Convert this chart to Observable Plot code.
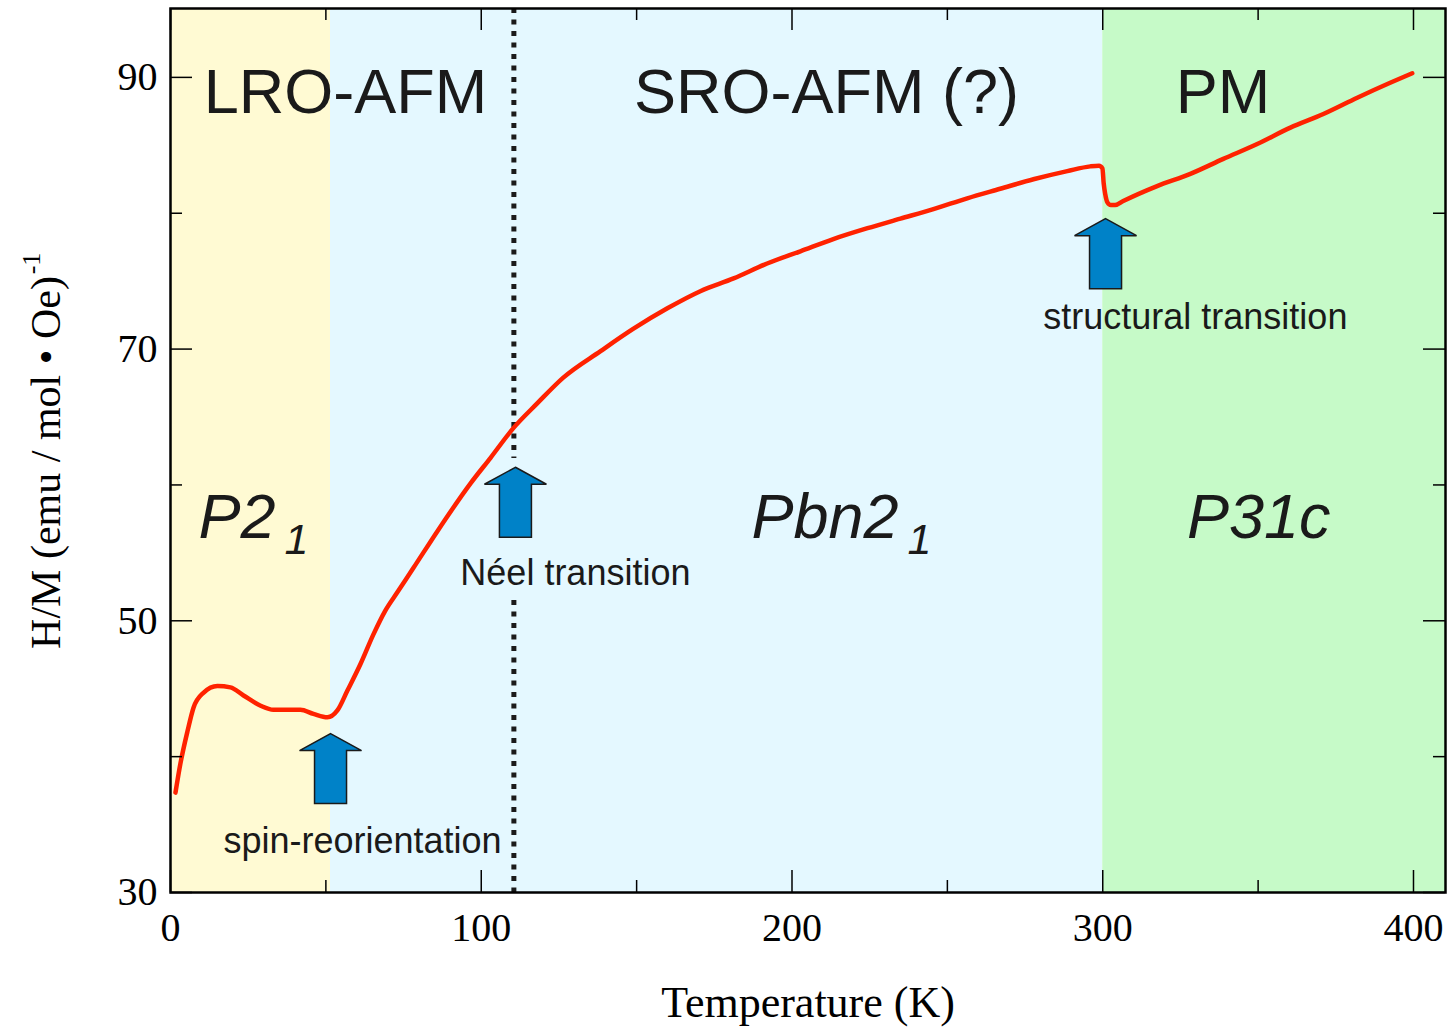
<!DOCTYPE html>
<html><head><meta charset="utf-8">
<script src="https://cdn.jsdelivr.net/npm/d3@7"></script>
<script src="https://cdn.jsdelivr.net/npm/@observablehq/plot@0.6"></script>
<style>body{margin:0;background:#fff}</style>
</head><body><div id="chart"></div>
<script>
// Measured curve: inverse susceptibility H/M vs temperature
const temperature = [1.6, 3.2, 5.5, 7.4, 10.6, 15.1, 19.3, 23.5, 29, 33.1, 41.8, 46, 50.5, 53.7, 56.9, 61.1, 65.3, 69.0, 73.0, 78.2, 85.9, 96.5, 103, 110.4, 118, 126.4, 138.4, 149, 159.9, 170.5, 181.2, 192, 202.7, 213.3, 224.3, 234.9, 245.5, 256.4, 267, 277.7, 288.6, 296, 298.8, 299.9, 300.3, 300.8, 301.5, 302.6, 304, 306.6, 317.5, 328.2, 338.8, 349.7, 360.4, 371, 381.9, 392.5, 399.6];
const hm = [37.35, 39.5, 41.9, 43.6, 44.7, 45.2, 45.1, 44.5, 43.75, 43.45, 43.45, 43.15, 42.9, 43.4, 44.85, 46.8, 49.0, 50.7, 52.1, 53.9, 56.6, 60.1, 62.0, 64.2, 66.0, 67.9, 69.85, 71.5, 73.0, 74.26, 75.2, 76.3, 77.2, 78.1, 78.9, 79.6, 80.3, 81.1, 81.8, 82.5, 83.1, 83.45, 83.5, 83.3, 82.2, 81.4, 80.8, 80.6, 80.6, 80.9, 82.0, 82.9, 84.0, 85.1, 86.3, 87.3, 88.5, 89.6, 90.3];

// Phase regions
const regionStart = [0, 51.5, 300];
const regionEnd = [51.5, 300, 410.3];
const regionColor = ["#fffad3", "#e4f8ff", "#c6fac8"];
const regionName = ["LRO-AFM", "SRO-AFM (?)", "PM"];
const regionNameT = [56.3, 211.1, 338.7];
const regionNameH = [87.4, 87.4, 87.4];

// Space groups
const phaseMain = ["P2", "Pbn2", "P31c"];
const phaseSub = ["1", "1", ""];
const phaseEndT = [33.8, 234.3, 373.3];
const phaseH = [56.06, 56.06, 56.06];
const phaseSubH = [54.95, 54.95, 54.95];

// Transitions (arrows + labels)
const arrowT = [51.5, 111.0, 300.9];
const arrowTipH = [41.7, 61.3, 79.6];
const transitionLabel = ["spin-reorientation", "Néel transition", "structural transition"];
const transitionLabelT = [61.8, 130.3, 329.8];
const transitionLabelH = [32.94, 52.6, 71.5];

// Néel dotted line segments
const neelT = 110.5;
const neelY1 = [95.07, 51.5];
const neelY2 = [61.95, 30];

// Axes
const xDomain = [0, 410.3];
const yDomain = [30, 95.07];
const xMajor = [0, 100, 200, 300, 400];
const xMinor = [50, 150, 250, 350];
const yMajor = [30, 50, 70, 90];
const yMinor = [40, 60, 80];
const xLabel = "Temperature (K)";
const yLabel = "H/M (emu / mol • Oe)";
const yLabelSup = "-1";

const W = 1450, H = 1031, mL = 170, mR = 5, mT = 8, mB = 139;
const iw = W - mL - mR, ih = H - mT - mB;

const curve = temperature.map((t, i) => ({t, h: hm[i]}));
const regions = regionStart.map((s, i) => ({s, e: regionEnd[i], c: regionColor[i]}));
const regionTexts = regionName.map((n, i) => ({n, t: regionNameT[i], h: regionNameH[i]}));
const phases = phaseMain.map((m, i) => ({m, s: phaseSub[i], t: phaseEndT[i], h: phaseH[i], hs: phaseSubH[i]}));
const arrows = arrowT.map((t, i) => ({t, h: arrowTipH[i]}));
const transTexts = transitionLabel.map((l, i) => ({l, t: transitionLabelT[i], h: transitionLabelH[i]}));
const neel = neelY1.map((y1, i) => ({y1, y2: neelY2[i]}));

const arrowSymbol = {
  draw(ctx) {
    ctx.moveTo(0, 0);
    ctx.lineTo(31, 17);
    ctx.lineTo(16, 17);
    ctx.lineTo(16, 70);
    ctx.lineTo(-16, 70);
    ctx.lineTo(-16, 17);
    ctx.lineTo(-31, 17);
    ctx.closePath();
  }
};

const sans = "'Liberation Sans', Arial, sans-serif";
const serif = "'Liberation Serif', 'Times New Roman', serif";
const ink = "#1a1a1a";

const chart = Plot.plot({
  width: W, height: H,
  marginLeft: mL, marginRight: mR, marginTop: mT, marginBottom: mB,
  x: {domain: xDomain},
  y: {domain: yDomain},
  style: {background: "white", color: "black"},
  marks: [
    Plot.rect(regions, {x1: "s", x2: "e", y1: yDomain[0], y2: yDomain[1], fill: "c"}),
    Plot.ruleX(neel, {x: neelT, y1: "y1", y2: "y2", stroke: ink, strokeWidth: 5, strokeDasharray: "5,6.5"}),
    Plot.line(curve, {x: "t", y: "h", stroke: "#ff2200", strokeWidth: 4.5, curve: "monotone-x"}),
    Plot.dot(arrows, {x: "t", y: "h", symbol: arrowSymbol, r: 10, fill: "#0082c8", stroke: ink, strokeWidth: 1.5}),
    Plot.text(regionTexts, {x: "t", y: "h", text: "n", fontSize: 63, fontFamily: sans, fill: ink, lineAnchor: "bottom"}),
    Plot.text(phases, {x: "t", y: "h", text: "m", fontSize: 63, fontFamily: sans, fontStyle: "italic", fill: ink, textAnchor: "end", lineAnchor: "bottom"}),
    Plot.text(phases, {x: "t", y: "hs", text: "s", fontSize: 43, fontFamily: sans, fontStyle: "italic", fill: ink, textAnchor: "start", lineAnchor: "bottom", dx: 9}),
    Plot.text(transTexts, {x: "t", y: "h", text: "l", fontSize: 36, fontFamily: sans, fill: ink, lineAnchor: "bottom"}),
    // inward ticks on all four sides
    Plot.ruleX(xMajor, {x: d => d, insetTop: ih - 22, stroke: "black", strokeWidth: 1.5}),
    Plot.ruleX(xMinor, {x: d => d, insetTop: ih - 12, stroke: "black", strokeWidth: 1.5}),
    Plot.ruleX(xMajor, {x: d => d, insetBottom: ih - 22, stroke: "black", strokeWidth: 1.5}),
    Plot.ruleX(xMinor, {x: d => d, insetBottom: ih - 12, stroke: "black", strokeWidth: 1.5}),
    Plot.ruleY(yMajor, {y: d => d, insetRight: iw - 22, stroke: "black", strokeWidth: 1.5}),
    Plot.ruleY(yMinor, {y: d => d, insetRight: iw - 12, stroke: "black", strokeWidth: 1.5}),
    Plot.ruleY(yMajor, {y: d => d, insetLeft: iw - 22, stroke: "black", strokeWidth: 1.5}),
    Plot.ruleY(yMinor, {y: d => d, insetLeft: iw - 12, stroke: "black", strokeWidth: 1.5}),
    Plot.frame({stroke: "black", strokeWidth: 2.5}),
    Plot.axisX({ticks: xMajor, tickSize: 0, tickPadding: 20, tickFormat: d => String(d), fontSize: 40, fontFamily: serif, label: null}),
    Plot.axisY({ticks: yMajor, tickSize: 0, tickPadding: 13, tickFormat: d => String(d), fontSize: 40, fontFamily: serif, label: null}),
    Plot.text([xLabel], {frameAnchor: "bottom", dy: 124, textAnchor: "middle", lineAnchor: "bottom", text: d => d, fontSize: 44, fontFamily: serif, fill: "black"}),
    Plot.text([yLabel], {frameAnchor: "left", dx: -124, dy: 12, rotate: -90, textAnchor: "middle", lineAnchor: "middle", text: d => d, fontSize: 42, fontFamily: serif, fill: "black"}),
    Plot.text([yLabelSup], {frameAnchor: "left", dx: -139, dy: -187, rotate: -90, textAnchor: "middle", lineAnchor: "middle", text: d => d, fontSize: 26, fontFamily: serif, fill: "black"})
  ]
});
document.getElementById("chart").appendChild(chart);
</script>
</body></html>
